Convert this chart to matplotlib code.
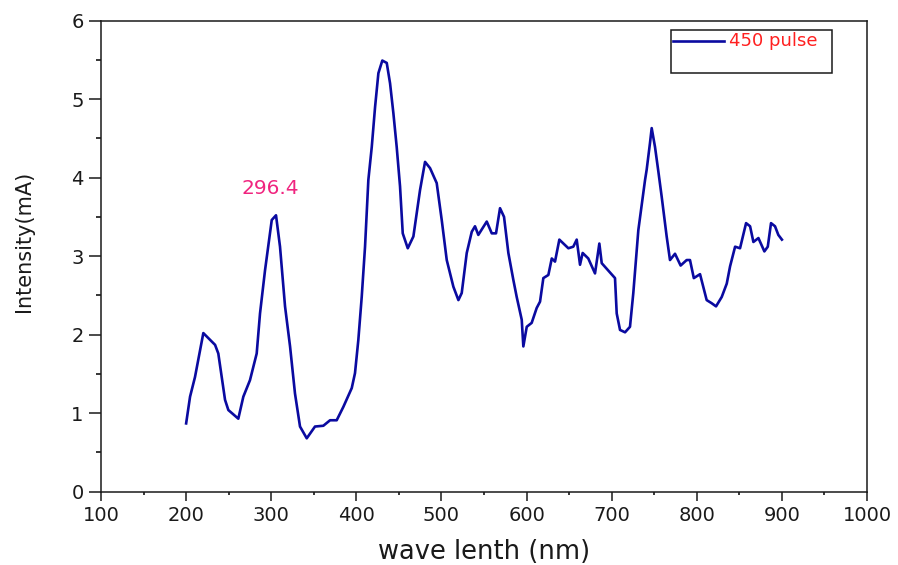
import matplotlib
matplotlib.use("Agg")
import matplotlib.pyplot as plt
from matplotlib.patches import Rectangle
from matplotlib.lines import Line2D
from matplotlib.ticker import MultipleLocator

# ==================================================
# DATA
# ==================================================

wavelength = [200, 204.6, 210.4, 220.2, 234, 237.8, 245.7, 249.6, 261.3, 267.2,
              275, 282.9, 286.8, 292.7, 300.6, 305.6, 310.3, 316.2, 322.1, 327.9,
              333.8, 341.7, 351.4, 361.2, 369.1, 376.9, 384.7, 394.6, 398.4, 402.3,
              406.3, 410.2, 414.1, 418.1, 422, 425.9, 430.5, 435.7, 439.6, 443.5,
              447.4, 451.3, 454.5, 460.4, 467, 474.8, 480.7, 486.6, 494.4, 500.3,
              506.2, 514, 519.9, 523.8, 529.7, 535.6, 539.4, 543.3, 553.2, 559.1,
              564.1, 568.8, 573.5, 578.6, 584.4, 588.4, 594.3, 596.2, 600.2, 606,
              611.9, 615.8, 619.7, 625.6, 629.6, 633.4, 638.5, 649.1, 654.9, 658.9,
              662.8, 665.9, 672.5, 680.4, 685.5, 688.3, 703.9, 705.9, 709.8, 715.7,
              721.5, 725.4, 731.3, 739.2, 741.1, 745, 747, 750.9, 754.8, 758.7,
              764.6, 768.5, 774.4, 781, 788.1, 792, 796.5, 803.8, 811.6, 817.5,
              822.6, 829.3, 835.2, 839.1, 845, 850.8, 857.9, 862.6, 866.5, 872.4,
              879.4, 883.4, 887.2, 891.9, 895.8, 900]

intensity = [0.87, 1.21, 1.46, 2.02, 1.87, 1.76, 1.17, 1.04, 0.93, 1.21,
             1.42, 1.76, 2.27, 2.82, 3.46, 3.52, 3.12, 2.36, 1.85, 1.25,
             0.83, 0.68, 0.83, 0.84, 0.91, 0.91, 1.08, 1.32, 1.51, 1.93,
             2.48, 3.12, 3.97, 4.39, 4.90, 5.33, 5.49, 5.46, 5.20, 4.82,
             4.39, 3.89, 3.29, 3.10, 3.25, 3.84, 4.20, 4.12, 3.93, 3.46,
             2.95, 2.61, 2.44, 2.53, 3.04, 3.31, 3.38, 3.27, 3.44, 3.29,
             3.29, 3.61, 3.50, 3.04, 2.70, 2.48, 2.19, 1.85, 2.10, 2.15,
             2.34, 2.42, 2.72, 2.76, 2.97, 2.93, 3.21, 3.10, 3.12, 3.21,
             2.89, 3.04, 2.97, 2.78, 3.16, 2.91, 2.72, 2.27, 2.06, 2.03,
             2.10, 2.53, 3.33, 3.97, 4.10, 4.44, 4.63, 4.39, 4.08, 3.76,
             3.25, 2.95, 3.03, 2.88, 2.95, 2.95, 2.72, 2.77, 2.44, 2.40,
             2.36, 2.48, 2.65, 2.87, 3.12, 3.10, 3.42, 3.38, 3.18, 3.23,
             3.06, 3.12, 3.42, 3.38, 3.27, 3.21]

series_label = "450 pulse"
peak_label = "296.4"
peak_pos = (298.6, 3.86)

# ==================================================
# FIGURE
# ==================================================

plt.rcParams["font.family"] = ["DejaVu Sans"]

fig = plt.figure(figsize=(8.98, 5.65), dpi=100)
ax = fig.add_axes([0.1125, 0.1297, 0.853, 0.834])

ax.plot(wavelength, intensity, color="#0a0aa0", linewidth=1.9)

ax.set_xlim(100, 1000)
ax.set_ylim(0, 6)
ax.xaxis.set_major_locator(MultipleLocator(100))
ax.xaxis.set_minor_locator(MultipleLocator(50))
ax.yaxis.set_major_locator(MultipleLocator(1))
ax.yaxis.set_minor_locator(MultipleLocator(0.5))

ax.tick_params(axis="x", which="major", direction="out", length=6.5, width=1.1,
               labelsize=14, pad=4, colors="#1a1a1a")
ax.tick_params(axis="x", which="minor", direction="out", length=2.5, width=1.1)
ax.tick_params(axis="y", which="major", direction="out", length=8.6, width=1.1,
               labelsize=14, pad=4, colors="#1a1a1a")
ax.tick_params(axis="y", which="minor", direction="out", length=3.6, width=1.1)

for sp in ax.spines.values():
    sp.set_linewidth(1.1)
    sp.set_color("#1a1a1a")

ax.set_xlabel("wave lenth (nm)", fontsize=18.5, color="#1a1a1a")
ax.xaxis.set_label_coords(0.5, -0.1)
ax.set_ylabel("Intensity(mA)", fontsize=15, color="#1a1a1a")
ax.yaxis.set_label_coords(-0.088, 0.531)

ax.text(peak_pos[0], peak_pos[1], peak_label, color="#f0247f", fontsize=14.5,
        ha="center", va="center")

# ==================================================
# LEGEND BOX
# ==================================================

ax.add_patch(Rectangle((0.744, 0.888), 0.2107, 0.0918, transform=ax.transAxes,
                       fill=False, edgecolor="#1a1a1a", linewidth=1.1))
ax.add_line(Line2D([0.7464, 0.8133], [0.957, 0.957], transform=ax.transAxes,
                   color="#0a0aa0", linewidth=1.9))
ax.text(0.8198, 0.957, series_label, transform=ax.transAxes, color="#ff2020",
        fontsize=13, ha="left", va="center")

fig.savefig("out.png", dpi=100)
